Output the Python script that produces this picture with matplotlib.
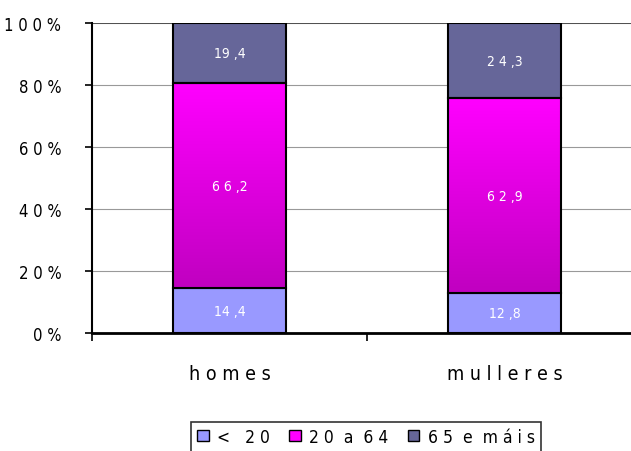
import numpy as np
import matplotlib
matplotlib.use("Agg")
import matplotlib.pyplot as plt
from matplotlib.patches import Patch
from matplotlib.colors import LinearSegmentedColormap

# --- data ---
categories = ["homes", "mulleres"]
series = ["< 20", "20 a 64", "65 e máis"]
under20 = [14.4, 12.8]
mid = [66.2, 62.9]
over65 = [19.4, 24.3]
yticks = [0, 20, 40, 60, 80, 100]

plt.rcParams['font.family'] = ['DejaVu Sans']
plt.rcParams['font.stretch'] = 'condensed'


def spaced(s):
    return " ".join(s)


fig = plt.figure(figsize=(6.31, 4.52), dpi=100)
ax = fig.add_axes([92 / 631, 1 - 334 / 452, 550 / 631, 310 / 452])

x = np.arange(len(categories))
w = 0.41
c_low = "#9999ff"
c_high = "#666699"

# magenta gradient for the middle block
grad = np.linspace(0, 1, 256).reshape(-1, 1)
cmap = LinearSegmentedColormap.from_list("mg", ["#c000c0", "#ff00ff"])

for i in range(len(categories)):
    b0 = under20[i]
    b1 = b0 + mid[i]
    ax.bar(x[i], under20[i], w, color=c_low, edgecolor="black", linewidth=1.5, zorder=3)
    ax.imshow(grad, cmap=cmap, aspect="auto", origin="lower",
              extent=[x[i] - w / 2, x[i] + w / 2, b0, b1], zorder=3)
    ax.bar(x[i], mid[i], w, bottom=b0, facecolor="none", edgecolor="black", linewidth=1.5, zorder=4)
    ax.bar(x[i], over65[i], w, bottom=b1, color=c_high, edgecolor="black", linewidth=1.5, zorder=3)

    for val, base in [(under20[i], 0), (mid[i], b0), (over65[i], b1)]:
        whole, dec = f"{val:.1f}".split(".")
        if val >= 20:
            whole = spaced(whole)
        ax.text(x[i], base + val / 2, whole + " ," + dec, ha="center", va="center",
                color="white", fontsize=10, zorder=5)

ax.set_xlim(-0.5, 1.5)
ax.set_ylim(0, 100)
ax.set_yticks(yticks)
ax.set_yticklabels([spaced(f"{v}%") for v in yticks], fontsize=12)
ax.set_xticks([-0.5, 0.5, 1.5])
ax.set_xticklabels([])
ax.tick_params(axis="y", length=5, width=1.2, direction="out", pad=17)
ax.tick_params(axis="x", length=6, width=1.2, direction="out")
for i, c in enumerate(categories):
    ax.text(x[i], -10, spaced(c), ha="center", va="top", fontsize=14)

ax.grid(axis="y", color="#999999", linewidth=0.8, zorder=0)
ax.set_axisbelow(True)
ax.spines["top"].set_visible(False)
ax.spines["right"].set_visible(False)
ax.spines["left"].set_linewidth(1.5)
ax.spines["bottom"].set_linewidth(2)
ax.axhline(100, color="#444444", linewidth=1.2, zorder=1)

handles = [Patch(facecolor=c_low, edgecolor="black"),
           Patch(facecolor="#ff00ff", edgecolor="black"),
           Patch(facecolor=c_high, edgecolor="black")]
labels = ["<   " + spaced("20"), spaced("20") + "  a  " + spaced("64"),
          spaced("65") + "  e  " + spaced("máis")]
leg = fig.legend(handles, labels,
                 loc="upper center", bbox_to_anchor=(366 / 631, 1 - 414 / 452),
                 ncol=3, fontsize=12.5, frameon=True, fancybox=False,
                 edgecolor="black", handlelength=0.65, handleheight=0.65,
                 handletextpad=0.5, columnspacing=1.1, borderpad=0.35)
leg.get_frame().set_linewidth(1.2)

fig.savefig("out.png", dpi=100)
